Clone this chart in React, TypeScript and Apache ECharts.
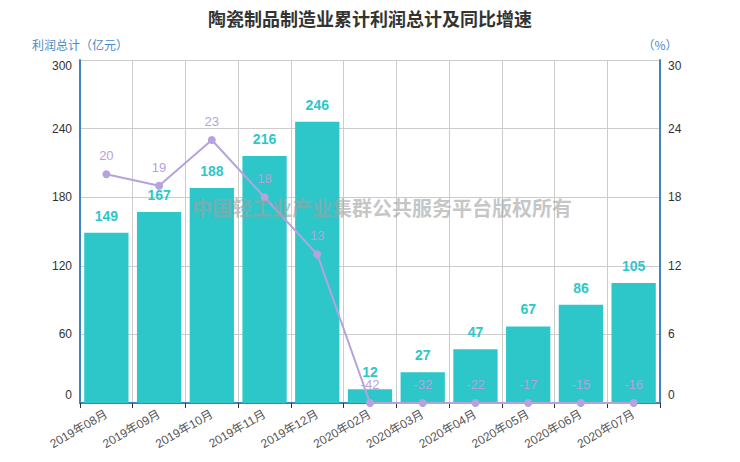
import React, { useEffect, useRef } from "react";
import * as echarts from "echarts";

const categories = [
  "2019年08月", "2019年09月", "2019年10月", "2019年11月", "2019年12月",
  "2020年02月", "2020年03月", "2020年04月", "2020年05月", "2020年06月", "2020年07月",
];
const profit = [149, 167, 188, 216, 246, 12, 27, 47, 67, 86, 105];
const growth = [20, 19, 23, 18, 13, -42, -32, -22, -17, -15, -16];
const leftTicks = { min: 0, max: 300, interval: 60 };
const rightTicks = { min: 0, max: 30, interval: 6 };

export default function App() {
  const ref = useRef<HTMLDivElement>(null);
  useEffect(() => {
    document.body.style.margin = "0";
    if (!ref.current) return;
    const chart = echarts.init(ref.current, undefined, { renderer: "svg" });
    const axisBlue = "#3f83c0";
    const numFont = "'Liberation Sans', Arial, sans-serif";
    const edgeFormatter = (mn: number, mx: number) => (v: number) =>
      v === mx ? `{t|${v}}` : v === mn ? `{b|${v}}` : `${v}`;
    const edgeRich = {
      t: { padding: [12, 0, 0, 0], fontSize: 12, color: "#333", fontFamily: numFont },
      b: { padding: [0, 0, 16, 0], fontSize: 12, color: "#333", fontFamily: numFont },
    };
    chart.setOption({
      animation: false,
      textStyle: { fontFamily: "'Noto Sans CJK SC', 'Noto Sans', sans-serif" },
      title: {
        text: "陶瓷制品制造业累计利润总计及同比增速",
        left: "center",
        top: 4,
        textStyle: { fontSize: 18, fontWeight: "bold", color: "#333" },
      },
      graphic: [
        {
          type: "text",
          left: 192,
          top: 197,
          z: 100,
          style: {
            text: "中国轻工业产业集群公共服务平台版权所有",
            fontSize: 20,
            fontWeight: "bold",
            fill: "rgba(160,160,160,0.6)",
            fontFamily: "'Noto Sans CJK SC', sans-serif",
          },
        },
      ],
      grid: { left: 80, right: 80, top: 60, bottom: 59 },
      xAxis: {
        type: "category",
        data: categories,
        axisLine: { lineStyle: { color: axisBlue, width: 2 } },
        axisTick: { show: true, lineStyle: { color: "#333" } },
        axisLabel: { rotate: 30, color: "#555", fontSize: 12, margin: 10, fontFamily: "'Liberation Sans', 'Noto Sans CJK SC', sans-serif" },
        splitLine: { show: true, lineStyle: { color: "#ccc" } },
      },
      yAxis: [
        {
          type: "value",
          name: "利润总计（亿元）",
          nameGap: 10,
          nameTextStyle: { color: "#4a8cc6", fontSize: 12 },
          ...leftTicks,
          axisLine: { show: true, lineStyle: { color: axisBlue, width: 2 } },
          axisTick: { show: false },
          axisLabel: { color: "#333", fontSize: 12, fontFamily: numFont, formatter: edgeFormatter(leftTicks.min, leftTicks.max), rich: edgeRich },
          splitLine: { show: true, lineStyle: { color: "#ccc" } },
        },
        {
          type: "value",
          name: "（%）",
          nameGap: 10,
          nameTextStyle: { color: "#4a8cc6", fontSize: 12 },
          ...rightTicks,
          axisLine: { show: true, lineStyle: { color: axisBlue, width: 2 } },
          axisTick: { show: false },
          axisLabel: { color: "#333", fontSize: 12, fontFamily: numFont, formatter: edgeFormatter(rightTicks.min, rightTicks.max), rich: edgeRich },
          splitLine: { show: false },
        },
      ],
      series: [
        {
          type: "bar",
          name: "利润总计",
          data: profit,
          barCategoryGap: "16%",
          itemStyle: { color: "#2ec7c9" },
          label: {
            show: true,
            position: "top",
            distance: 10,
            color: "#2ec7c9",
            fontSize: 14,
            fontWeight: "bold",
            fontFamily: numFont,
          },
        },
        {
          type: "line",
          name: "同比增速",
          yAxisIndex: 1,
          data: growth.map((v) => Math.max(v, rightTicks.min)),
          symbol: "circle",
          symbolSize: 8,
          itemStyle: { color: "#b6a2de" },
          lineStyle: { color: "#b6a2de", width: 2 },
          label: {
            show: true,
            position: "top",
            distance: 8,
            color: "#b6a2de",
            fontSize: 13,
            fontFamily: numFont,
            formatter: (p: any) => String(growth[p.dataIndex]),
          },
        },
      ],
    });
    return () => chart.dispose();
  }, []);
  return <div ref={ref} style={{ width: 740, height: 462 }} />;
}
